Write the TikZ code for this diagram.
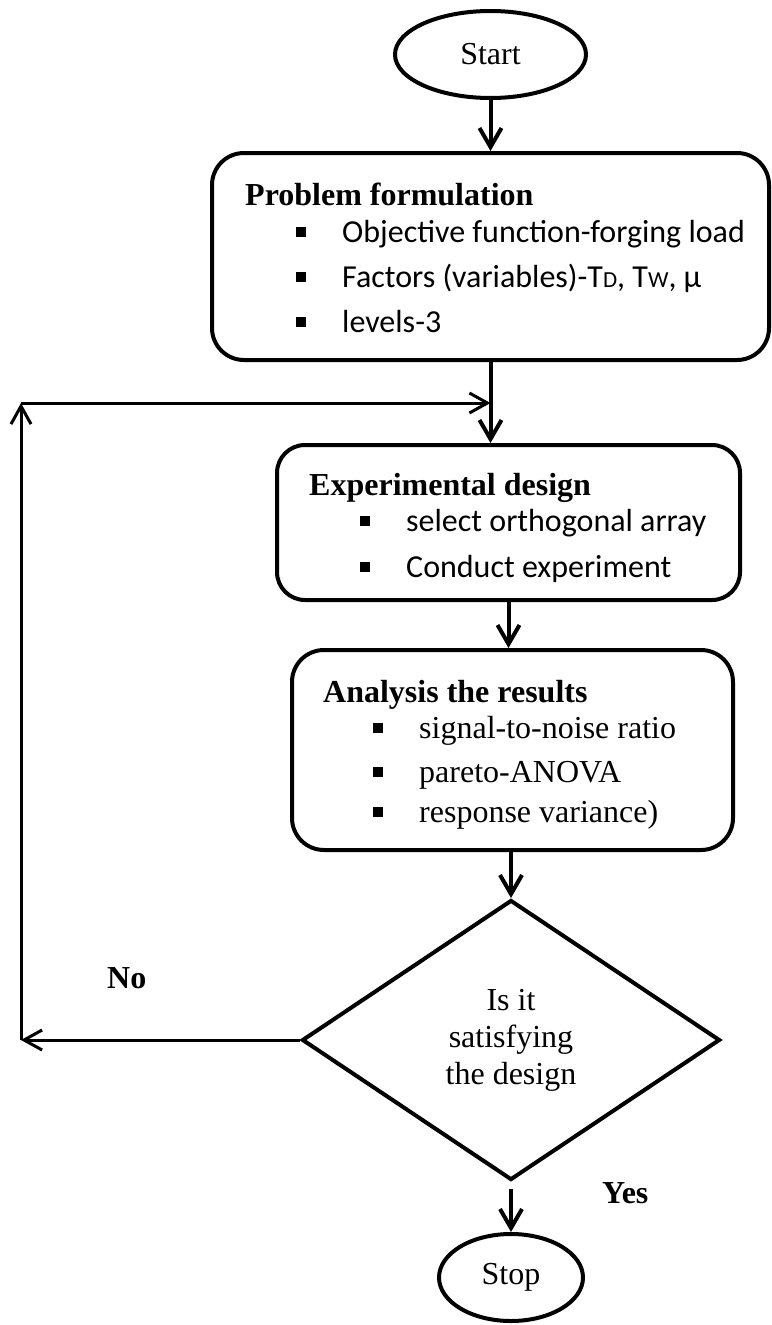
\documentclass[tikz,border=0pt]{standalone}
\usepackage{fontspec}
\setmainfont{Liberation Serif}
\newfontfamily\calibri{Carlito}
\usetikzlibrary{shapes.geometric,arrows.meta}

\newcommand\sq{\rule[5pt]{10pt}{10pt}\hspace{36pt}}
\newcommand\sm[1]{{\fontsize{23}{23}\selectfont #1}}

\begin{document}
\begin{tikzpicture}[x=1pt,y=-1pt,
  box/.style={draw, line width=4pt, rounded corners=32pt, inner sep=0pt},
  oval/.style={draw, ellipse, line width=4pt, inner sep=0pt, font=\fontsize{32}{37}\selectfont},
  flow/.style={-{Straight Barb[length=19pt,width=22pt]}, line width=4pt},
  back/.style={-{Straight Barb[length=18pt,width=20pt]}, line width=3pt},
  head/.style={anchor=base west, inner sep=0pt, font=\fontsize{32}{37}\selectfont\bfseries},
  item/.style={anchor=base west, inner sep=0pt, font=\fontsize{32}{37}\selectfont},
  citem/.style={item, font=\fontsize{32}{37}\selectfont\calibri}]

  \useasboundingbox (0,0) rectangle (771,1325);

  % start
  \node[oval, minimum width=191pt, minimum height=87pt] (start) at (490.5,54.5) {\raisebox{-4pt}{Start}};

  % problem formulation
  \node[box, minimum width=557pt, minimum height=207pt] (prob) at (490.5,256.5) {};
  \node[head] (probh) at (245,205) {Problem formulation};
  \node[citem] (prob1) at (296,242) {\sq Objective function-forging load};
  \node[citem] (prob2) at (296,287) {\sq Factors (variables)-T\sm{D}, T\sm{W}, μ};
  \node[citem] (prob3) at (296,332) {\sq levels-3};

  % experimental design
  \node[box, minimum width=463pt, minimum height=155pt, rounded corners=28pt] (expd) at (508.5,522.5) {};
  \node[head] (exph) at (309,495) {Experimental design};
  \node[citem] (exp1) at (360,531) {\sq select orthogonal array};
  \node[citem] (exp2) at (360,577) {\sq Conduct experiment};

  % analysis
  \node[box, minimum width=441pt, minimum height=200pt] (ana) at (512.5,750) {};
  \node[head] (anah) at (323,702) {Analysis the results};
  \node[item] (ana1) at (373,738) {\sq signal-to-noise ratio};
  \node[item] (ana2) at (373,782) {\sq pareto-ANOVA};
  \node[item] (ana3) at (373,822) {\sq response variance)};

  % decision
  \node[draw, diamond, aspect=1.49, line width=4pt, inner sep=0pt,
    minimum width=418pt, minimum height=280pt, align=center,
    font=\fontsize{32}{37}\selectfont] (dec) at (511,1040) {Is it\\satisfying\\the design};

  % stop
  \node[oval, minimum width=144pt, minimum height=87pt] (stop) at (511,1277.5) {\raisebox{-3pt}{Stop}};

  % labels
  \node[head] (nolab) at (107,988) {No};
  \node[head] (yeslab) at (602,1203) {Yes};

  % connectors
  \coordinate (loopd) at (21,1040);
  \coordinate (loopu) at (21,403);
  \draw[flow] (start) -- (prob);
  \draw[flow] (prob.south) -- (prob.south |- expd.north);
  \draw[back] (loopu) -- (prob.south |- loopu);
  \draw[flow] (expd.south) -- (expd.south |- ana.north);
  \draw[flow] (ana.south -| dec.north) -- (dec.north);
  \draw[flow] ([yshift=-7pt]dec.south) -- (stop.north);
  \draw[back] (dec.west) -- (loopd);
  \draw[back] (loopd) -- (loopu);

\end{tikzpicture}
\end{document}
